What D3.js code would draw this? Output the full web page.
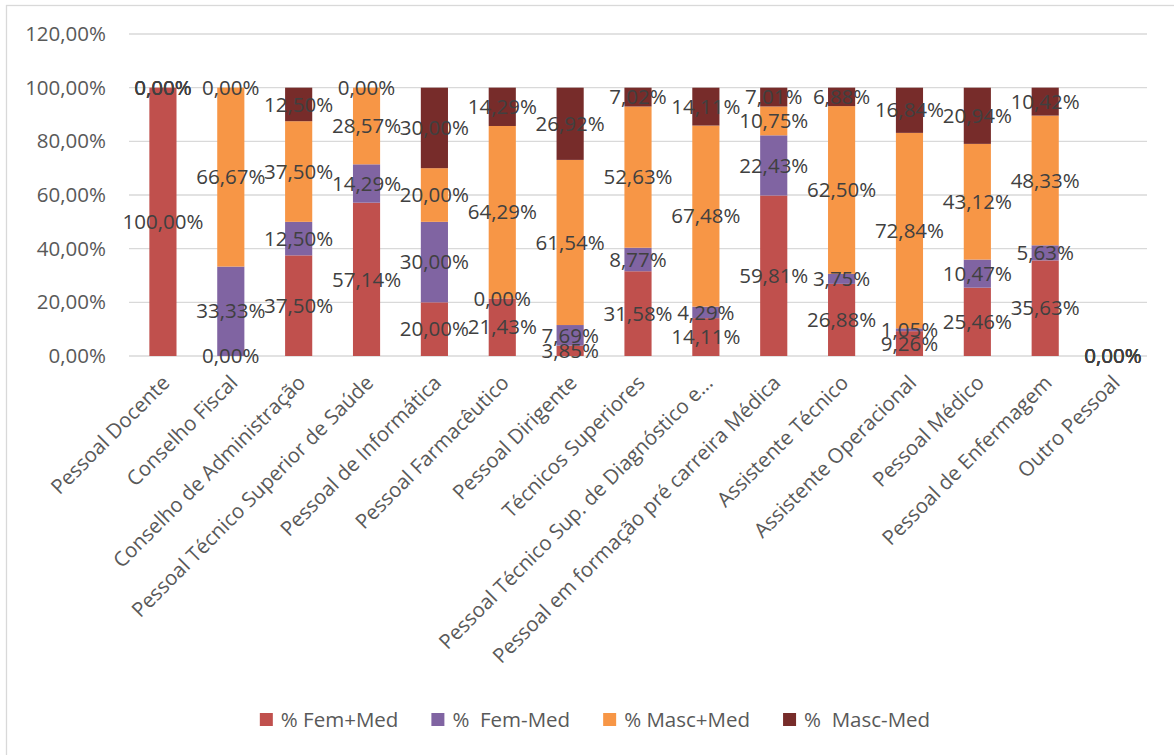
<!DOCTYPE html>
<html>
<head>
<meta charset="utf-8">
<script src="https://cdn.jsdelivr.net/npm/d3@7"></script>
<style>
  html, body { margin: 0; padding: 0; background: #fff; }
  svg { display: block; }
  text { font-family: "Open Sans", "Noto Sans", sans-serif; }
</style>
</head>
<body>
<svg id="chart" width="1174" height="755"></svg>
<script>
// Staff categories (x axis)
const categories = [
  "Pessoal Docente",
  "Conselho Fiscal",
  "Conselho de Administração",
  "Pessoal Técnico Superior de Saúde",
  "Pessoal de Informática",
  "Pessoal Farmacêutico",
  "Pessoal Dirigente",
  "Técnicos Superiores",
  "Pessoal Técnico Sup. de Diagnóstico e...",
  "Pessoal em formação pré carreira Médica",
  "Assistente Técnico",
  "Assistente Operacional",
  "Pessoal Médico",
  "Pessoal de Enfermagem",
  "Outro Pessoal"
];

// Series values, in percent
const femMed     = [100, 0, 37.50, 57.14, 20.00, 21.43, 3.85, 31.58, 14.11, 59.81, 26.88, 9.26, 25.46, 35.63, 0];
const femSemMed  = [0, 33.33, 12.50, 14.29, 30.00, 0, 7.69, 8.77, 4.29, 22.43, 3.75, 1.05, 10.47, 5.63, 0];
const mascMed    = [0, 66.67, 37.50, 28.57, 20.00, 64.29, 61.54, 52.63, 67.48, 10.75, 62.50, 72.84, 43.12, 48.33, 0];
const mascSemMed = [0, 0, 12.50, 0, 30.00, 14.29, 26.92, 7.02, 14.11, 7.01, 6.88, 16.84, 20.94, 10.42, 0];

const seriesNames = ["% Fem+Med", "%  Fem-Med", "% Masc+Med", "%  Masc-Med"];
const seriesColors = ["#C0504D", "#8064A2", "#F79646", "#772C2A"];
const yTicks = [0, 20, 40, 60, 80, 100, 120];

// Table for d3.stack
const keys = ["fm", "fs", "mm", "ms"];
const rows = categories.map((c, i) => ({
  cat: c, fm: femMed[i], fs: femSemMed[i], mm: mascMed[i], ms: mascSemMed[i]
}));
const stacked = d3.stack().keys(keys)(rows);

const fmt = v => v.toFixed(2).replace(".", ",") + "%";

const svg = d3.select("#chart");

// Chart frame
svg.append("rect")
  .attr("x", 6.5).attr("y", 5.5)
  .attr("width", 1200).attr("height", 800)
  .attr("fill", "none").attr("stroke", "#d9d9d9").attr("stroke-width", 1.3);

const x = d3.scaleBand().domain(categories).range([129, 1147])
  .paddingInner(0.6).paddingOuter(0.3);
const y = d3.scaleLinear().domain([0, 120]).range([356, 34]);

// Gridlines
svg.append("g").selectAll("line").data(yTicks).join("line")
  .attr("x1", 129).attr("x2", 1147)
  .attr("y1", d => y(d)).attr("y2", d => y(d))
  .attr("stroke", "#d9d9d9").attr("stroke-width", 1.3);

// Y axis labels
const yAxis = d3.axisLeft(y).tickValues(yTicks).tickSize(0).tickPadding(0)
  .tickFormat(d => d.toFixed(2).replace(".", ",") + "%");
const gy = svg.append("g").attr("transform", "translate(106,0)").call(yAxis);
gy.select(".domain").remove();
gy.selectAll("text")
  .attr("fill", "#595959")
  .style("font-size", "20.5px")
  .style("font-family", "'Open Sans', sans-serif");

// Stacked bars
const layers = svg.append("g").selectAll("g").data(stacked).join("g")
  .attr("fill", (d, i) => seriesColors[i]);
layers.selectAll("rect").data(d => d).join("rect")
  .attr("x", d => x(d.data.cat))
  .attr("width", x.bandwidth())
  .attr("y", d => y(d[1]))
  .attr("height", d => y(d[0]) - y(d[1]));

// X axis labels, rotated
const xAxis = d3.axisBottom(x).tickSize(0).tickPadding(0);
const gx = svg.append("g").attr("transform", "translate(0,356)").call(xAxis);
gx.select(".domain").remove();
gx.selectAll(".tick text")
  .attr("fill", "#595959")
  .style("font-size", "20.5px")
  .style("font-family", "'Open Sans', sans-serif")
  .attr("text-anchor", "end")
  .attr("y", 0).attr("dy", "0.35em")
  .attr("transform", "translate(3,23) rotate(-45)");

// Data labels, centred in each segment
const labels = svg.append("g");
stacked.forEach((layer, si) => {
  labels.selectAll(null).data(layer).join("text")
    .attr("x", d => x(d.data.cat) + x.bandwidth() / 2)
    .attr("y", d => y((d[0] + d[1]) / 2))
    .attr("dy", "0.35em")
    .attr("text-anchor", "middle")
    .attr("fill", "#404040")
    .style("font-size", "20.5px")
    .text(d => fmt(d.data[keys[si]]));
});

// Legend
const legend = svg.append("g");
let lx = 0;
seriesNames.forEach((name, i) => {
  const g = legend.append("g");
  g.append("rect").attr("x", 0).attr("y", -7).attr("width", 13).attr("height", 13)
    .attr("fill", seriesColors[i]);
  const t = g.append("text").attr("x", 21).attr("y", 0).attr("dy", "0.35em")
    .attr("fill", "#595959").style("font-size", "20.5px")
    .style("white-space", "pre").text(name);
  const w = 21 + t.node().getComputedTextLength();
  g.attr("transform", `translate(${lx},0)`);
  lx += w + 33;
});
const legendW = lx - 33;
legend.attr("transform", `translate(${595 - legendW / 2},720)`);
</script>
</body>
</html>
